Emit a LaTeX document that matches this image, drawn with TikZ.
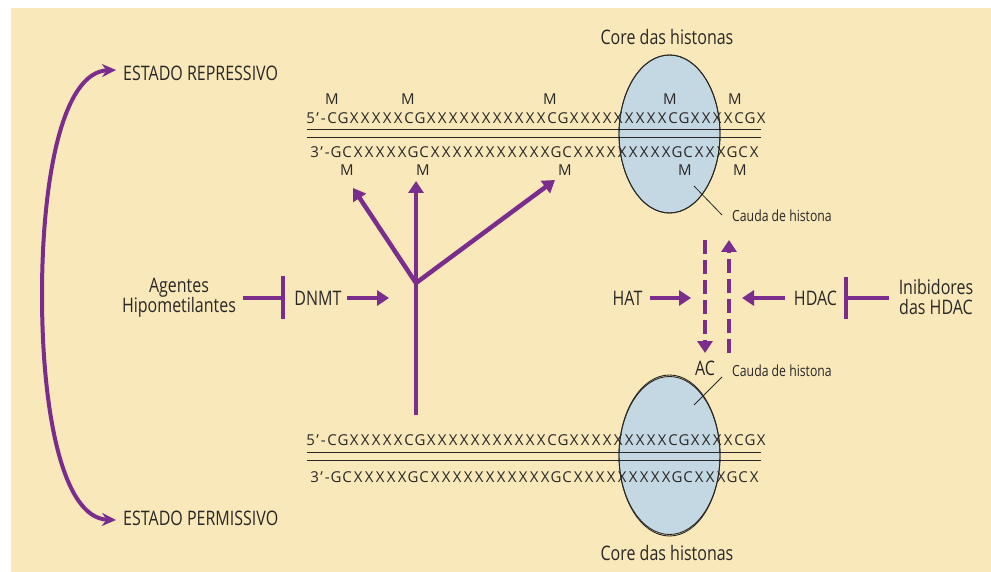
\documentclass[tikz,border=0pt]{standalone}
\usepackage{fontspec}
\setmainfont{Open Sans}
\newfontfamily\cond[FakeStretch=0.8]{Open Sans}
\usetikzlibrary{arrows.meta,shapes.geometric}
\definecolor{bg}{HTML}{F9E8B9}
\definecolor{purp}{HTML}{7B2D8E}
\definecolor{ell}{HTML}{C3D8E3}
\definecolor{ink}{HTML}{2A2727}
\def\dnaseq#1{\dnastep#1\relax}
\def\dnastep#1{\ifx#1\relax\else\makebox[11pt]{#1}\expandafter\dnastep\fi}
\begin{document}
\begin{tikzpicture}[x=1pt,y=-1pt,
  lab/.style={font=\cond\fontsize{20}{20}\selectfont, text=ink, inner sep=0pt},
  small/.style={font=\cond\fontsize{15.3}{15}\selectfont, text=ink, inner sep=0pt},
  dnat/.style={font=\fontsize{15}{16}\selectfont, text=ink, inner sep=0pt},
  parr/.style={draw=purp, line width=4.5pt, -{Triangle[length=12pt,width=15pt]}},
  pline/.style={draw=purp, line width=4.5pt},
  darr/.style={parr, dash pattern=on 14pt off 6pt},
  bigarr/.style={draw=purp, line width=4pt, {Stealth[length=14pt,width=13pt]}-{Stealth[length=14pt,width=13pt]}},
  histone/.style={ellipse, fill=ell, draw=ink, line width=0.9pt, inner sep=0pt, minimum width=101pt, minimum height=158pt},
  strand/.style={draw=ink, line width=1.1pt},
  callout/.style={draw=ink, line width=0.8pt}]
\useasboundingbox (0,0) rectangle (991,572);
\fill[white] (0,0) rectangle (991,572);
\fill[bg] (11,8) rectangle (991,572);

% histone cores
\node[histone] (h1) at (669.5,134) {};
\node[histone] (h2) at (669.5,455.5) {};
\node[lab] (core1) at (667,37) {Core das histonas};
\node[lab] (core2) at (667,553) {Core das histonas};

% upper DNA
\node[dnat, anchor=base west] (s1) at (326.5,124) {\dnaseq{CGXXXXXCGXXXXXXXXXXXCGXXXXXXXXXCGXXXXCGX}};
\node[dnat, anchor=base east] (p1) at (326,124) {5\kern1.5pt’\kern2pt-};
\node[dnat, anchor=base west] (s2) at (330.5,157.7) {\dnaseq{GCXXXXXGCXXXXXXXXXXXGCXXXXXXXXXGCXXXGCX}};
\node[dnat, anchor=base east] (p2) at (330,157.7) {3\kern1.5pt’\kern2pt-};
\coordinate (l1a) at (307,129.3); \coordinate (l1b) at (761,129.3);
\coordinate (l2a) at (307,137.7); \coordinate (l2b) at (761,137.7);
\draw[strand] (l1a) -- (l1b);
\draw[strand] (l2a) -- (l2b);
\foreach \x [count=\i] in {332,408,550,670,735}
  \node[dnat, anchor=base] (mt\i) at (\x,105) {M};
\foreach \x [count=\i] in {347,423,565,685,740}
  \node[dnat, anchor=base] (mb\i) at (\x,175.7) {M};

% lower DNA
\node[dnat, anchor=base west] (s3) at (326.5,445.7) {\dnaseq{CGXXXXXCGXXXXXXXXXXXCGXXXXXXXXXCGXXXXCGX}};
\node[dnat, anchor=base east] (p3) at (326,445.7) {5\kern1.5pt’\kern2pt-};
\node[dnat, anchor=base west] (s4) at (330.5,482.3) {\dnaseq{GCXXXXXGCXXXXXXXXXXXGCXXXXXXXXXGCXXXGCX}};
\node[dnat, anchor=base east] (p4) at (330,482.3) {3\kern1.5pt’\kern2pt-};
\coordinate (l3a) at (307,452.3); \coordinate (l3b) at (761,452.3);
\coordinate (l4a) at (307,460.7); \coordinate (l4b) at (761,460.7);
\draw[strand] (l3a) -- (l3b);
\draw[strand] (l4a) -- (l4b);

% ellipse borders on top
\draw[ink, line width=0.9pt] (h1.center) ellipse [x radius=50.5pt, y radius=79pt];
\draw[ink, line width=0.9pt] (h2.center) ellipse [x radius=50.5pt, y radius=80.5pt];

% histone tails
\node[small, anchor=west] (cauda1) at (732,216) {Cauda de histona};
\node[small, anchor=west] (cauda2) at (732,371) {Cauda de histona};
\coordinate (t1) at (694,186);
\coordinate (t1e) at (722,215);
\coordinate (t2) at (694,405);
\coordinate (t2e) at (722,377);
\draw[callout] (t1) -- (t1e);
\draw[callout] (t2) -- (t2e);

% states
\node[lab, anchor=west] (rep) at (123,73) {ESTADO REPRESSIVO};
\node[lab, anchor=west] (perm) at (123,518) {ESTADO PERMISSIVO};
\coordinate (rtip) at (116,70);
\coordinate (ptip) at (116,520);
\draw[bigarr] (rtip) .. controls (62,72) and (42,180) .. (42,295) .. controls (42,410) and (62,518) .. (ptip);

% left side
\node[lab, align=center] (agent) at (179,297.5) {Agentes\\Hipometilantes};
\coordinate (ia) at (243,298); \coordinate (ib) at (283,298);
\coordinate (bt1) at (283,276); \coordinate (bb1) at (283,319);
\draw[pline] (ia) -- (ib);
\draw[pline] (bt1) -- (bb1);
\node[lab] (dnmt) at (318,298) {DNMT};
\coordinate (da) at (347,298); \coordinate (db) at (389,298);
\draw[parr] (da) -- (db);

% tree
\coordinate (trunk) at (416,415);
\coordinate (junc) at (416,283);
\coordinate (tipL) at (353,188);
\coordinate (tipM) at (416,181);
\coordinate (tipR) at (555,180);
\draw[parr] (trunk) -- (tipM);
\draw[parr] (junc) -- (tipL);
\draw[parr] (junc) -- (tipR);

% right side
\node[lab] (hat) at (627.5,298) {HAT};
\coordinate (ha) at (650,298); \coordinate (hb) at (691,298);
\draw[parr] (ha) -- (hb);
\coordinate (dd1) at (705,240); \coordinate (dd2) at (705,353);
\draw[darr] (dd1) -- (dd2);
\coordinate (du1) at (729,353); \coordinate (du2) at (729,240);
\draw[darr] (du1) -- (du2);
\node[lab] (ac) at (705,368) {AC};
\node[lab] (hdac) at (815.5,298) {HDAC};
\coordinate (hd1) at (785,298); \coordinate (hd2) at (742,298);
\draw[parr] (hd1) -- (hd2);
\coordinate (bt2) at (846,277); \coordinate (bb2) at (846,319);
\coordinate (ja) at (889,298); \coordinate (jb) at (846,298);
\draw[pline] (bt2) -- (bb2);
\draw[pline] (ja) -- (jb);
\node[lab, align=center] (inib) at (936,297) {Inibidores\\das HDAC};
\end{tikzpicture}
\end{document}
